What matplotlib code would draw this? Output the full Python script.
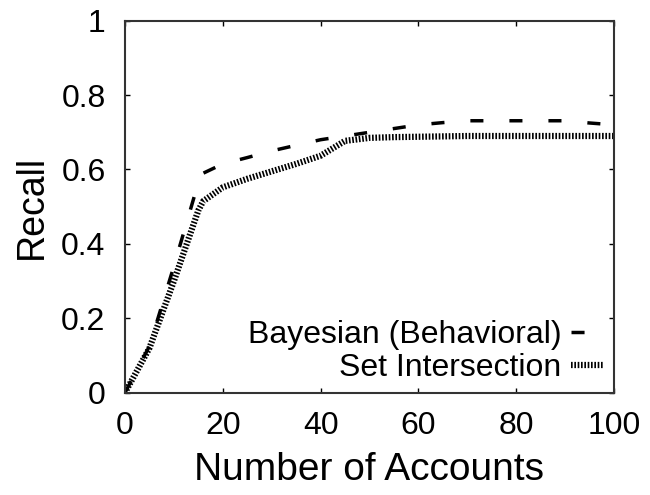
import matplotlib.pyplot as plt

plt.rcParams['font.family'] = ['Liberation Sans', 'DejaVu Sans']
plt.rcParams['lines.scale_dashes'] = False

# number of accounts (x) and recall for the two methods
accounts = [0, 5, 10, 15, 16, 20, 25, 30, 35, 40, 45, 50, 55, 60, 65, 70, 75, 80, 85, 90, 95, 100]
bayesian = [0.0, 0.125, 0.34, 0.565, 0.59, 0.615, 0.632, 0.65, 0.665, 0.68, 0.69, 0.70,
            0.71, 0.72, 0.726, 0.731, 0.731, 0.731, 0.731, 0.731, 0.725, 0.72]
set_inter = [0.0, 0.12, 0.30, 0.49, 0.515, 0.552, 0.575, 0.595, 0.615, 0.637, 0.677, 0.685,
             0.687, 0.688, 0.689, 0.69, 0.69, 0.69, 0.69, 0.69, 0.69, 0.69]

labels = ['Bayesian (Behavioral)', 'Set Intersection']

fig = plt.figure(figsize=(6.5, 4.95), dpi=100)
ax = fig.add_axes([0.1923, 0.2067, 0.7523, 0.7515])

ax.plot(accounts, bayesian, color='black', linewidth=2.5,
        dashes=(9.4, 18.7), dash_capstyle='butt', label=labels[0])
ax.plot(accounts, set_inter, color='black', linewidth=4.5,
        dashes=(1.2, 1.2), dash_capstyle='butt', label=labels[1])

ax.set_xlim(0, 100)
ax.set_ylim(0, 1)
ax.set_xticks([0, 20, 40, 60, 80, 100])
ax.set_yticks([0, 0.2, 0.4, 0.6, 0.8, 1.0])
ax.set_yticklabels(['0', '0.2', '0.4', '0.6', '0.8', '1'])
ax.tick_params(direction='in', length=3.5, width=1, top=True, right=True,
               labelsize=23)
ax.tick_params(axis='x', pad=13)
ax.tick_params(axis='y', pad=14)
for s in ax.spines.values():
    s.set_linewidth(1.5)
    s.set_color('#333333')

ax.set_xlabel('Number of Accounts', fontsize=28, labelpad=8)
ax.set_ylabel('Recall', fontsize=27, labelpad=8)

ax.legend(loc='lower right', frameon=False, markerfirst=False, fontsize=23,
          handlelength=1.05, handletextpad=0.3, labelspacing=0.1,
          borderpad=0, borderaxespad=0.3)

plt.savefig('out.png', dpi=100)
